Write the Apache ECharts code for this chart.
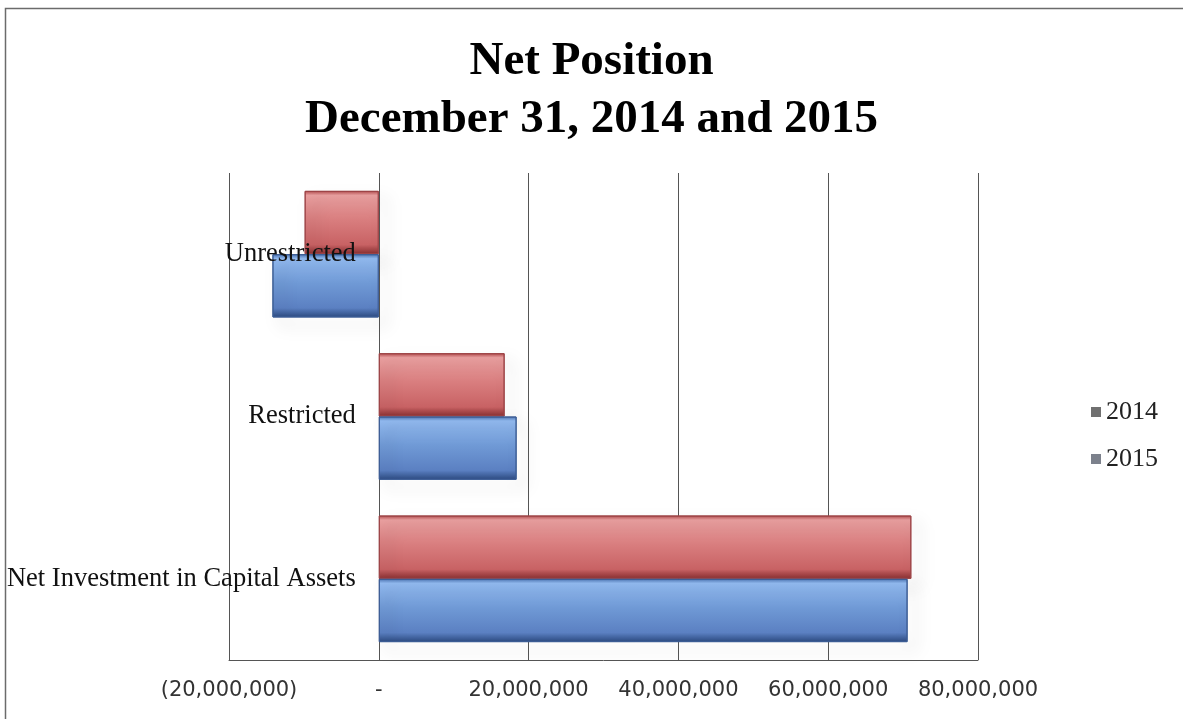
<!DOCTYPE html>
<html>
<head>
<meta charset="utf-8">
<script src="https://cdn.jsdelivr.net/npm/echarts@6/dist/echarts.min.js"></script>
<style>
html,body{margin:0;padding:0;background:#fff;}
#chart{width:1183px;height:719px;}
</style>
</head>
<body>
<div id="chart"></div>
<script>
var categories = ['Net Investment in Capital Assets', 'Restricted', 'Unrestricted'];
var seriesNames = ['2014', '2015'];
var values2014 = [71100000, 16800000, -9900000];
var values2015 = [70600000, 18400000, -14200000];
var xTicks = [-20000000, 0, 20000000, 40000000, 60000000, 80000000];

function fmt(v) {
  if (v === 0) return '-';
  var s = Math.abs(v).toString().replace(/\B(?=(\d{3})+(?!\d))/g, ',');
  return v < 0 ? '(' + s + ')' : s;
}

var redGrad = new echarts.graphic.LinearGradient(0, 0, 0, 1, [
  {offset: 0, color: '#b0494b'},
  {offset: 0.07, color: '#eaa0a0'},
  {offset: 0.45, color: '#d97e7f'},
  {offset: 0.85, color: '#c86264'},
  {offset: 1, color: '#8a3032'}
]);
var blueGrad = new echarts.graphic.LinearGradient(0, 0, 0, 1, [
  {offset: 0, color: '#4a72b0'},
  {offset: 0.07, color: '#92baf0'},
  {offset: 0.45, color: '#709ad6'},
  {offset: 0.85, color: '#5b80c2'},
  {offset: 1, color: '#2c4a80'}
]);

var GRID_LEFT = 229;
var chart = echarts.init(document.getElementById('chart'));
chart.setOption({
  backgroundColor: '#ffffff',
  animation: false,
  graphic: [{
    type: 'rect',
    shape: {x: 5.5, y: 8.5, width: 1200, height: 730},
    style: {fill: 'none', stroke: '#6b6b6b', lineWidth: 1.5},
    silent: true
  }],
  title: {
    text: 'Net Position\nDecember 31, 2014 and 2015',
    left: 'center',
    top: 28,
    textStyle: {
      fontFamily: 'Liberation Serif',
      fontWeight: 'bold',
      fontSize: 47,
      lineHeight: 58,
      color: '#000'
    }
  },
  legend: {
    orient: 'vertical',
    left: 1086,
    top: 394,
    itemGap: 21,
    itemWidth: 10,
    itemHeight: 10,
    icon: 'rect',
    data: [
      {name: seriesNames[0], itemStyle: {color: '#707070', borderWidth: 0}},
      {name: seriesNames[1], itemStyle: {color: '#7c818c', borderWidth: 0}}
    ],
    textStyle: {fontFamily: 'Liberation Serif', fontSize: 26, color: '#222'}
  },
  grid: {left: GRID_LEFT, right: 205, top: 173, bottom: 59, containLabel: false, outerBoundsMode: 'none'},
  xAxis: {
    type: 'value',
    min: xTicks[0],
    max: xTicks[xTicks.length - 1],
    interval: 20000000,
    axisLine: {show: true, lineStyle: {color: '#555', width: 1}},
    axisTick: {show: false},
    splitLine: {show: true, lineStyle: {color: '#555', width: 1}},
    axisLabel: {
      formatter: fmt,
      fontFamily: 'DejaVu Sans',
      fontSize: 21,
      color: '#333',
      margin: 20
    }
  },
  yAxis: {
    type: 'category',
    data: categories,
    offset: 0,
    z: 10,
    axisLine: {show: false, onZero: true},
    axisTick: {show: false},
    splitLine: {show: false},
    axisLabel: {
      fontFamily: 'Liberation Serif',
      fontSize: 26.5,
      color: '#111',
      margin: 23
    }
  },
  series: [
    {
      name: seriesNames[0],
      type: 'bar',
      data: values2014,
      barGap: '0%',
      barCategoryGap: '22%',
      itemStyle: {
        color: redGrad,
        borderColor: '#9d4446',
        borderWidth: 1,
        shadowBlur: 16,
        shadowColor: 'rgba(0,0,0,0.28)',
        shadowOffsetX: 8,
        shadowOffsetY: 8
      }
    },
    {
      name: seriesNames[1],
      type: 'bar',
      data: values2015,
      barGap: '0%',
      barCategoryGap: '22%',
      itemStyle: {
        color: blueGrad,
        borderColor: '#3c5d95',
        borderWidth: 1,
        shadowBlur: 16,
        shadowColor: 'rgba(0,0,0,0.28)',
        shadowOffsetX: 8,
        shadowOffsetY: 8
      }
    }
  ]
});
// place the category axis (and its labels) on the zero line of the value axis
var zeroPx = chart.convertToPixel({xAxisIndex: 0}, 0);
var gridRect = chart.getModel().getComponent('grid', 0).coordinateSystem.getRect();
chart.setOption({yAxis: {offset: gridRect.x - zeroPx}});
</script>
</body>
</html>
